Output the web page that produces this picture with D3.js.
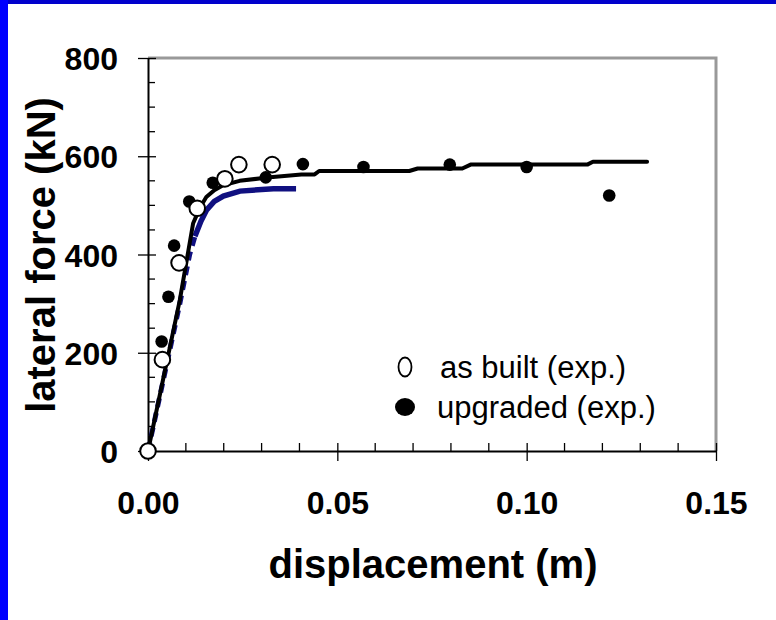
<!DOCTYPE html>
<html><head><meta charset="utf-8">
<script src="https://cdn.jsdelivr.net/npm/d3@7"></script>
<style>body{margin:0;background:#fff}svg{display:block}</style>
</head><body>
<script>
// Data
const asBuiltDisp  = [0, 0.0038, 0.0082, 0.0130, 0.0203, 0.0240, 0.0328];
const asBuiltForce = [0, 186, 383, 494, 554, 583, 583];
const upgradedDisp  = [0.0036, 0.0054, 0.0069, 0.0109, 0.0171, 0.0311, 0.0409, 0.0569, 0.0797, 0.1000, 0.1218];
const upgradedForce = [223, 314, 418, 508, 546, 557, 584, 578, 583, 578, 520];
const modelUpDisp  = [0, 0.0084, 0.0119, 0.0137, 0.0154, 0.0175, 0.0198, 0.0242, 0.033, 0.0405, 0.044, 0.0452, 0.069, 0.0712, 0.083, 0.0852, 0.116, 0.1175, 0.1318];
const modelUpForce = [0, 307, 463, 495, 517, 531, 541, 550, 558, 563, 563, 570, 570, 575, 575, 583, 583, 589, 589];
const modelAsDisp  = [0, 0.0084, 0.0110, 0.0124, 0.0140, 0.0155, 0.0175, 0.0199, 0.0243, 0.0331, 0.0391];
const modelAsForce = [0, 300, 400, 437, 468, 491, 508, 519, 529, 534, 534];
const xTicks = [0, 0.05, 0.10, 0.15];
const yTicks = [0, 200, 400, 600, 800];
const legendLabels = ["as built (exp.)", "upgraded (exp.)"];

const W = 776, H = 620;
const svg = d3.select("body").append("svg").attr("width", W).attr("height", H);
svg.append("rect").attr("width", W).attr("height", H).attr("fill", "#fff");
svg.append("rect").attr("x", 0).attr("y", 0).attr("width", W).attr("height", 4).attr("fill", "#0000cc");
svg.append("rect").attr("x", 0).attr("y", 0).attr("width", 8).attr("height", H).attr("fill", "#0000ff");

const x = d3.scaleLinear().domain([0, 0.15]).range([148, 716]);
const y = d3.scaleLinear().domain([0, 800]).range([451, 58]);

const font = "'Liberation Sans', Arial, sans-serif";

// frame (top/right gray)
svg.append("path").attr("d", `M${x(0)},${y(800)}H${x(0.15)}V${y(0)}`)
  .attr("fill", "none").attr("stroke", "#999").attr("stroke-width", 3);

// minor ticks
const yMinor = d3.range(0, 801, 50).filter(v => v % 200 !== 0);
svg.append("g").selectAll("line").data(yMinor).join("line")
  .attr("x1", x(0)).attr("x2", x(0) + 7).attr("y1", d => y(d)).attr("y2", d => y(d))
  .attr("stroke", "#000").attr("stroke-width", 1.3);
const xMinor = d3.range(1, 15).map(i => i / 100).filter(v => Math.abs(v * 20 - Math.round(v * 20)) > 1e-6);
svg.append("g").selectAll("line").data(xMinor).join("line")
  .attr("x1", d => x(d)).attr("x2", d => x(d)).attr("y1", y(0)).attr("y2", y(0) - 8)
  .attr("stroke", "#000").attr("stroke-width", 1.3);

// axes via d3
const yAxis = d3.axisLeft(y).tickValues(yTicks).tickSizeInner(10).tickSizeOuter(0).tickPadding(20).tickFormat(d3.format("d"));
const gy = svg.append("g").attr("transform", `translate(${x(0)},0)`).call(yAxis);
gy.select(".domain").attr("stroke", "#000").attr("stroke-width", 2);
gy.selectAll(".tick line").attr("x2", -10).attr("x1", 8).attr("stroke", "#000").attr("stroke-width", 1.3);
gy.selectAll(".tick text").attr("font-family", font).attr("font-weight", "bold").attr("font-size", 32).attr("fill", "#000").attr("dy", "0.36em");

const xAxis = d3.axisBottom(x).tickValues(xTicks).tickSizeInner(10).tickSizeOuter(0).tickPadding(30).tickFormat(d3.format(".2f"));
const gx = svg.append("g").attr("transform", `translate(0,${y(0)})`).call(xAxis);
gx.select(".domain").attr("stroke", "#000").attr("stroke-width", 2);
gx.selectAll(".tick line").attr("y1", -8).attr("y2", 10).attr("stroke", "#000").attr("stroke-width", 1.3);
gx.selectAll(".tick text").attr("font-family", font).attr("font-weight", "bold").attr("font-size", 32).attr("fill", "#000").attr("dy", "0.71em");

// titles
svg.append("text").attr("x", 433).attr("y", 578).attr("text-anchor", "middle")
  .attr("font-family", font).attr("font-weight", "bold").attr("font-size", 40).text("displacement (m)");
svg.append("text").attr("transform", "translate(55,255) rotate(-90)").attr("text-anchor", "middle")
  .attr("font-family", font).attr("font-weight", "bold").attr("font-size", 40).text("lateral force (kN)");

// model curves
const line = d3.line().x(d => x(d[0])).y(d => y(d[1]));
const asModel = d3.zip(modelAsDisp, modelAsForce);
svg.append("path").datum(asModel.filter(d => d[0] <= 0.0125)).attr("d", line)
  .attr("fill", "none").attr("stroke", "#101080").attr("stroke-width", 5).attr("stroke-dasharray", "9,6");
svg.append("path").datum(asModel.filter(d => d[0] >= 0.0124)).attr("d", line)
  .attr("fill", "none").attr("stroke", "#101080").attr("stroke-width", 5.5);
svg.append("path").datum(d3.zip(modelUpDisp, modelUpForce)).attr("d", line)
  .attr("fill", "none").attr("stroke", "#000").attr("stroke-width", 4).attr("stroke-linejoin", "round").attr("stroke-linecap", "round");

// experimental points
svg.append("g").selectAll("circle").data(d3.zip(upgradedDisp, upgradedForce)).join("circle")
  .attr("cx", d => x(d[0])).attr("cy", d => y(d[1])).attr("r", 6.3).attr("fill", "#000");
svg.append("g").selectAll("circle").data(d3.zip(asBuiltDisp, asBuiltForce)).join("circle")
  .attr("cx", d => x(d[0])).attr("cy", d => y(d[1])).attr("r", 7.8).attr("fill", "#fff")
  .attr("stroke", "#000").attr("stroke-width", 2);

// legend
svg.append("ellipse").attr("cx", 405).attr("cy", 367).attr("rx", 6.5).attr("ry", 9.5)
  .attr("fill", "#fff").attr("stroke", "#000").attr("stroke-width", 1.8);
svg.append("ellipse").attr("cx", 405).attr("cy", 407).attr("rx", 10).attr("ry", 9).attr("fill", "#000");
svg.append("g").selectAll("text").data(legendLabels).join("text")
  .attr("x", (d, i) => i === 0 ? 440 : 437).attr("y", (d, i) => 378 + i * 40)
  .attr("font-family", font).attr("font-size", 31).attr("fill", "#000").text(d => d);
</script>
</body></html>
